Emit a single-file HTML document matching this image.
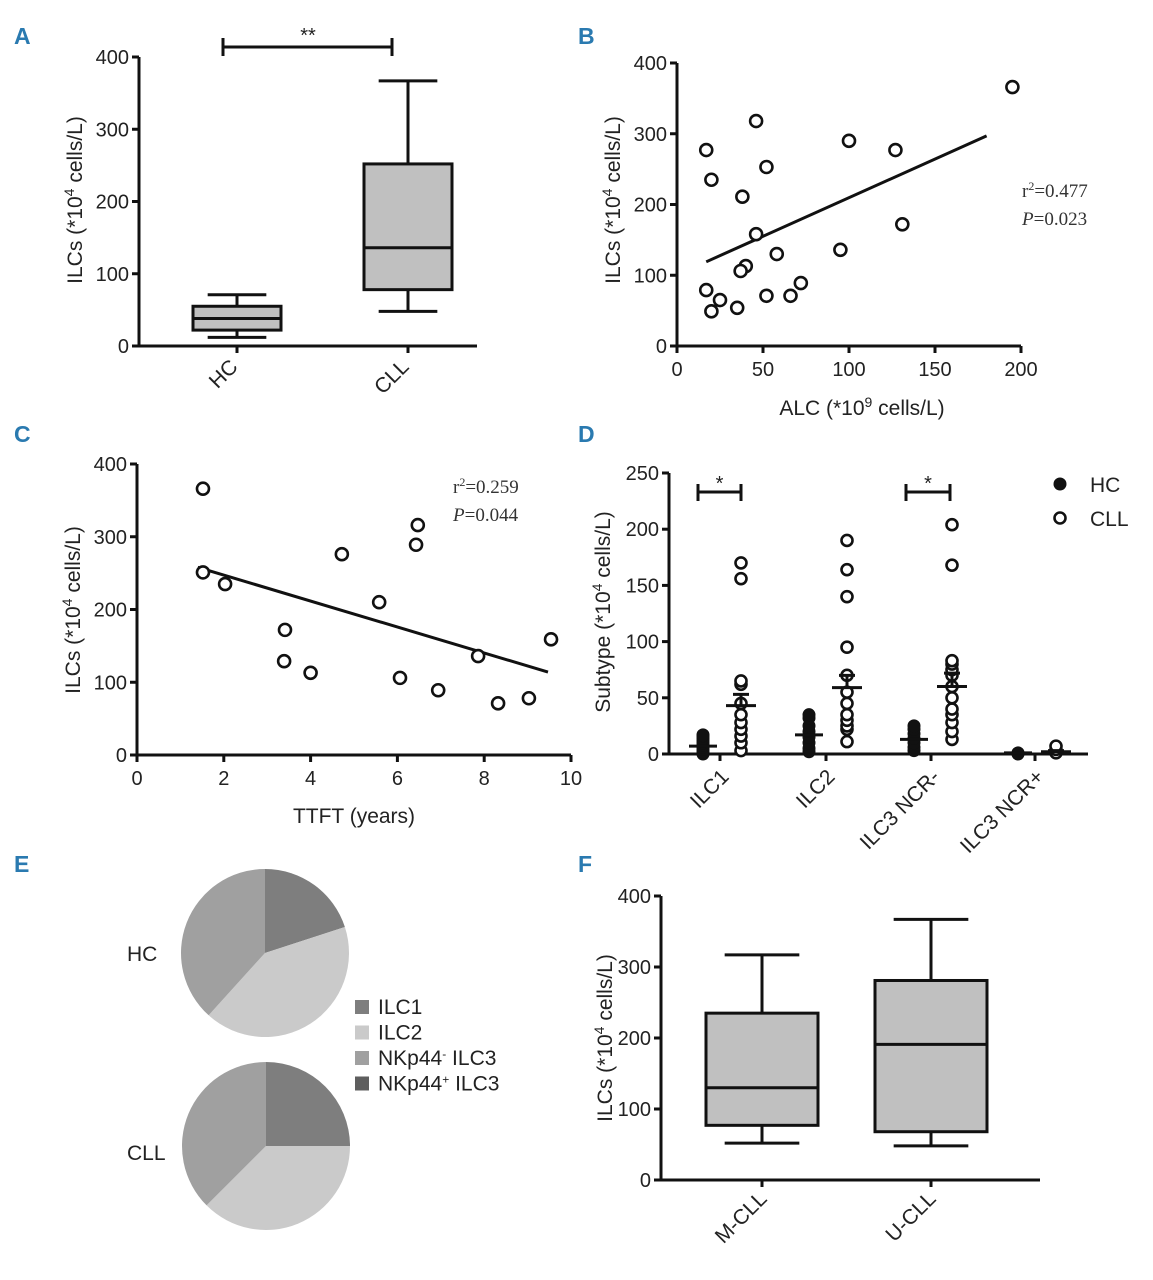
<!DOCTYPE html>
<html><head><meta charset="utf-8"><style>
html,body{margin:0;padding:0;background:#fff}
svg{display:block;font-family:"Liberation Sans",Arial,sans-serif}
.pl{font-family:"Liberation Sans",sans-serif;font-weight:bold;fill:#2a7ab0;font-size:23px}
.tk{font-size:20px;fill:#222}
.lb{font-size:21px;fill:#222}
.an{font-family:"Liberation Serif",serif;font-size:19px;fill:#333}
</style></head><body>
<svg id="fig" width="1153" height="1280" viewBox="0 0 1153 1280">
<text class="pl" x="14" y="44">A</text>
<text class="pl" x="578" y="44">B</text>
<text class="pl" x="14" y="442">C</text>
<text class="pl" x="578" y="442">D</text>
<text class="pl" x="14" y="872">E</text>
<text class="pl" x="578" y="872">F</text>
</svg>
<script>
// ---- data ----
const boxACategories = ["HC","CLL"];
const boxAStats = [[12,22,38,55,71],[48,78,136,252,367]];
const yTicksILC = [0,100,200,300,400];
const scatterBX = [17,20,46,52,38,100,127,195,131,46,95,58,40,37,17,25,20,35,52,66,72];
const scatterBY = [277,235,318,253,211,290,277,366,172,158,136,130,113,106,79,65,49,54,71,71,89];
const fitBX = [17,180];
const fitBY = [119,297];
const xTicksB = [0,50,100,150,200];
const scatterCX = [1.52,1.52,2.03,3.41,3.39,4.0,4.72,5.58,6.47,6.43,6.06,6.94,7.86,8.32,9.03,9.54];
const scatterCY = [366,251,235,172,129,113,276,210,316,289,106,89,136,71,78,159];
const fitCX = [1.4,9.47];
const fitCY = [258,114];
const xTicksC = [0,2,4,6,8,10];
const subtypeCategories = ["ILC1","ILC2","ILC3 NCR-","ILC3 NCR+"];
const subtypeHC = [[0,2,4,6,8,10,12,14,16,17],[2,5,10,15,20,25,32,35],[3,6,10,14,18,22,25],[0,1]];
const subtypeCLL = [[3,10,16,22,28,35,45,62,65,156,170],[11,22,25,30,35,45,55,70,95,140,164,190],[13,20,28,35,40,50,60,70,75,80,83,168,204],[1,4,7]];
const subtypeMeanHC = [7,17,13,1];
const subtypeMeanCLL = [43,59,60,2];
const subtypeSemCLL = [10,11,12,1];
const yTicksD = [0,50,100,150,200,250];
const pieLabels = ["ILC1","ILC2","NKp44- ILC3","NKp44+ ILC3"];
const pieHC = [20,41.7,38.3,0];
const pieCLL = [25,37.5,37.5,0];
const boxFCategories = ["M-CLL","U-CLL"];
const boxFStats = [[52,77,130,235,317],[48,68,191,281,367]];

const NS="http://www.w3.org/2000/svg";
const svg=document.getElementById('fig');
function el(tag,attrs,parent){const e=document.createElementNS(NS,tag);for(const k in attrs)e.setAttribute(k,attrs[k]);(parent||svg).appendChild(e);return e;}
function lin(d0,d1,r0,r1){return v=>r0+(v-d0)*(r1-r0)/(d1-d0);}
const S={stroke:'#111','stroke-width':3,fill:'none'};

function yAxis(g,x,y0,y1,ticks,ys,name){
  let a=el('line',Object.assign({x1:x,x2:x,y1:y0,y2:y1},S),g);
  
  
  ticks.forEach(t=>{
    let l=el('line',Object.assign({x1:x-7,x2:x,y1:ys(t),y2:ys(t)},S),g);
    
    
    let tx=el('text',{x:x-10,y:ys(t)+7,'text-anchor':'end',class:'tk'},g);
    tx.textContent=t;
    
    
  });
}
function yLabel(g,x,y,pre,sup,post,name){
  let t=el('text',{x:0,y:0,'text-anchor':'middle',class:'lb',transform:`translate(${x},${y}) rotate(-90)`},g);
  
  
  t.innerHTML=`${pre}<tspan dy="-8" font-size="14">${sup}</tspan><tspan dy="8">${post}</tspan>`;
}
function rotLabel(g,x,y,txt,name){
  let t=el('text',{x:0,y:0,'text-anchor':'end',class:'lb',transform:`translate(${x},${y}) rotate(-45)`},g);
  t.textContent=txt;
  
  
}
function boxplot(g,cx,w,st,ys,name){
  const [mn,q1,md,q3,mx]=st.map(ys);
  let wl=el('line',Object.assign({x1:cx,x2:cx,y1:mx,y2:mn},S),g);
  
  
  [mn,mx].forEach(y=>{let c=el('line',Object.assign({x1:cx-w/3,x2:cx+w/3,y1:y,y2:y},S),g);
    
    });
  let r=el('rect',{x:cx-w/2,y:q3,width:w,height:q1-q3,fill:'#c0c0c0',stroke:'#111','stroke-width':3},g);
  
  
  let m=el('line',Object.assign({x1:cx-w/2,x2:cx+w/2,y1:md,y2:md},S),g);
  
  
}

// ---- Panel A ----
{
  const g=el('g',{});
  
  
  const ys=lin(0,400,346,57);
  const xs=[237,408];
  yAxis(g,139,346,57,yTicksILC,ys,'panel-a');
  let xa=el('line',Object.assign({x1:139,x2:477,y1:346,y2:346},S),g);
  
  
  boxACategories.forEach((c,i)=>{
    boxplot(g,xs[i],88,boxAStats[i],ys,'panel-a-'+c.toLowerCase());
    let t=el('line',Object.assign({x1:xs[i],x2:xs[i],y1:346,y2:353},S),g);
    
    
    rotLabel(g,xs[i]+2,368,c,'panel-a-x-label-'+c.toLowerCase());
  });
  yLabel(g,82,200,'ILCs (*10','4',' cells/L)','panel-a-y-axis-title');
  let br=el('path',Object.assign({d:'M223,38 V56 M223,47 H392 M392,38 V56'},S),g);
  
  
  let st=el('text',{x:308,y:42,'text-anchor':'middle',class:'tk'},g);
  st.textContent='**';
  
  
}
// ---- scatter helper ----
function scatter(g,X,Y,xs,ys,name){
  X.forEach((v,i)=>{let c=el('circle',{cx:xs(v),cy:ys(Y[i]),r:6,fill:'#fff',stroke:'#111','stroke-width':2.6},g);
    
    });
}
function xAxis(g,x0,x1,y,ticks,xs,name){
  let a=el('line',Object.assign({x1:x0,x2:x1,y1:y,y2:y},S),g);
  
  
  ticks.forEach(t=>{
    let l=el('line',Object.assign({x1:xs(t),x2:xs(t),y1:y,y2:y+7},S),g);
    
    
    let tx=el('text',{x:xs(t),y:y+30,'text-anchor':'middle',class:'tk'},g);
    tx.textContent=t;
    
    
  });
}
function annot(g,x,y,r2,p,name){
  let a=el('text',{x:x,y:y,class:'an'},g);
  a.innerHTML=`r<tspan dy="-7" font-size="12">2</tspan><tspan dy="7">=${r2}</tspan>`;
  
  
  let b=el('text',{x:x,y:y+28,class:'an'},g);
  b.innerHTML=`<tspan font-style="italic">P</tspan>=${p}`;
  
  
}
// ---- Panel B ----
{
  const g=el('g',{});
  
  
  const ys=lin(0,400,346,63), xs=lin(0,200,677,1021);
  yAxis(g,677,346,63,yTicksILC,ys,'panel-b');
  xAxis(g,677,1021,346,xTicksB,xs,'panel-b');
  let f=el('line',Object.assign({x1:xs(fitBX[0]),x2:xs(fitBX[1]),y1:ys(fitBY[0]),y2:ys(fitBY[1])},S),g);
  
  
  scatter(g,scatterBX,scatterBY,xs,ys,'panel-b');
  yLabel(g,620,200,'ILCs (*10','4',' cells/L)','panel-b-y-axis-title');
  let xl=el('text',{x:862,y:415,'text-anchor':'middle',class:'lb'},g);
  xl.innerHTML='ALC (*10<tspan dy="-8" font-size="14">9</tspan><tspan dy="8"> cells/L)</tspan>';
  
  
  annot(g,1022,197,'0.477','0.023','panel-b');
}
// ---- Panel C ----
{
  const g=el('g',{});
  
  
  const ys=lin(0,400,755,464), xs=lin(0,10,137,571);
  yAxis(g,137,755,464,yTicksILC,ys,'panel-c');
  xAxis(g,137,571,755,xTicksC,xs,'panel-c');
  let f=el('line',Object.assign({x1:xs(fitCX[0]),x2:xs(fitCX[1]),y1:ys(fitCY[0]),y2:ys(fitCY[1])},S),g);
  
  
  scatter(g,scatterCX,scatterCY,xs,ys,'panel-c');
  yLabel(g,80,610,'ILCs (*10','4',' cells/L)','panel-c-y-axis-title');
  let xl=el('text',{x:354,y:823,'text-anchor':'middle',class:'lb'},g);
  xl.textContent='TTFT (years)';
  
  
  annot(g,453,493,'0.259','0.044','panel-c');
}
// ---- Panel D ----
{
  const g=el('g',{});
  
  
  const ys=lin(0,250,754,473);
  const tx=[720,826,931,1035];
  yAxis(g,669,754,473,yTicksD,ys,'panel-d');
  let xa=el('line',Object.assign({x1:669,x2:1088,y1:754,y2:754},S),g);
  
  
  subtypeCategories.forEach((c,i)=>{
    let t=el('line',Object.assign({x1:tx[i],x2:tx[i],y1:754,y2:761},S),g);
    
    
    rotLabel(g,tx[i]+10,778,c,'panel-d-x-label');
    const hx=tx[i]-17, cx=tx[i]+21;
    subtypeHC[i].forEach(v=>{let p=el('circle',{cx:hx,cy:ys(v),r:6.5,fill:'#111'},g);
      
      });
    subtypeCLL[i].forEach(v=>{let p=el('circle',{cx:cx,cy:ys(v),r:5.5,fill:'#fff',stroke:'#111','stroke-width':2.6},g);
      
      });
    let mh=el('line',Object.assign({x1:hx-14,x2:hx+14,y1:ys(subtypeMeanHC[i]),y2:ys(subtypeMeanHC[i])},S),g);
    
    
    let mc=el('line',Object.assign({x1:cx-15,x2:cx+15,y1:ys(subtypeMeanCLL[i]),y2:ys(subtypeMeanCLL[i])},S),g);
    
    
    const top=ys(subtypeMeanCLL[i]+subtypeSemCLL[i]);
    let eb=el('path',Object.assign({d:`M${cx},${ys(subtypeMeanCLL[i])} V${top} M${cx-8},${top} H${cx+8}`},S),g);
    
    
  });
  [[698,741],[906,950]].forEach(([a,b])=>{
    let br=el('path',Object.assign({d:`M${a},484 V501 M${a},492 H${b} M${b},484 V501`},S),g);
    
    
    let s=el('text',{x:(a+b)/2,y:490,'text-anchor':'middle',class:'tk'},g);
    s.textContent='*';
    
    
  });
  let l1=el('circle',{cx:1060,cy:484,r:6.5,fill:'#111'},g);
  
  
  let l2=el('circle',{cx:1060,cy:518,r:5.5,fill:'#fff',stroke:'#111','stroke-width':2.6},g);
  
  
  let t1=el('text',{x:1090,y:492,class:'lb'},g);
  t1.textContent='HC';
  
  
  let t2=el('text',{x:1090,y:526,class:'lb'},g);
  t2.textContent='CLL';
  
  
  let yl=el('text',{x:0,y:0,'text-anchor':'middle',class:'lb',transform:'translate(610,612) rotate(-90)'},g);
  yl.innerHTML='Subtype (*10<tspan dy="-8" font-size="14">4</tspan><tspan dy="8"> cells/L)</tspan>';
  
  
}
// ---- Panel E ----
{
  const g=el('g',{});
  
  
  const cols=['#7e7e7e','#cacaca','#a0a0a0','#5e5e5e'];
  function pie(cx,cy,r,vals,name){
    const tot=vals.reduce((a,b)=>a+b,0);let a0=0;
    vals.forEach((v,i)=>{ if(v<=0)return;
      const a1=a0+v/tot*2*Math.PI;
      const p=(a)=>[cx+r*Math.sin(a),cy-r*Math.cos(a)];
      const [x0,y0]=p(a0),[x1,y1]=p(a1);
      let s=el('path',{d:`M${cx},${cy} L${x0},${y0} A${r},${r} 0 ${a1-a0>Math.PI?1:0} 1 ${x1},${y1} Z`,fill:cols[i]},g);
      
      
      a0=a1;});
  }
  pie(265,953,84,pieHC,'panel-e-hc-pie');
  pie(266,1146,84,pieCLL,'panel-e-cll-pie');
  let a=el('text',{x:127,y:961,class:'lb'},g);
  a.textContent='HC';
  
  
  let b=el('text',{x:127,y:1160,class:'lb'},g);
  b.textContent='CLL';
  
  
  pieLabels.forEach((lab,i)=>{
    const y=1007+i*25.5;
    let r=el('rect',{x:355,y:y-7,width:14,height:14,fill:cols[i]},g);
    
    
    let t=el('text',{x:378,y:y+7,class:'lb'},g);
    const parts=lab.split(' ');
    if(parts.length>1){const sign=parts[0].slice(-1);t.innerHTML=`${parts[0].slice(0,-1)}<tspan dy="-7" font-size="12">${sign}</tspan><tspan dy="7"> ${parts[1]}</tspan>`;}
    else t.textContent=lab;
    
    
  });
}
// ---- Panel F ----
{
  const g=el('g',{});
  
  
  const ys=lin(0,400,1180,896);
  const xs=[762,931];
  yAxis(g,661,1180,896,yTicksILC,ys,'panel-f');
  let xa=el('line',Object.assign({x1:661,x2:1040,y1:1180,y2:1180},S),g);
  
  
  boxFCategories.forEach((c,i)=>{
    boxplot(g,xs[i],112,boxFStats[i],ys,'panel-f-'+c.toLowerCase());
    let t=el('line',Object.assign({x1:xs[i],x2:xs[i],y1:1180,y2:1187},S),g);
    
    
    rotLabel(g,xs[i]+6,1200,c,'panel-f-x-label');
  });
  yLabel(g,612,1038,'ILCs (*10','4',' cells/L)','panel-f-y-axis-title');
}
</script>
</body></html>
